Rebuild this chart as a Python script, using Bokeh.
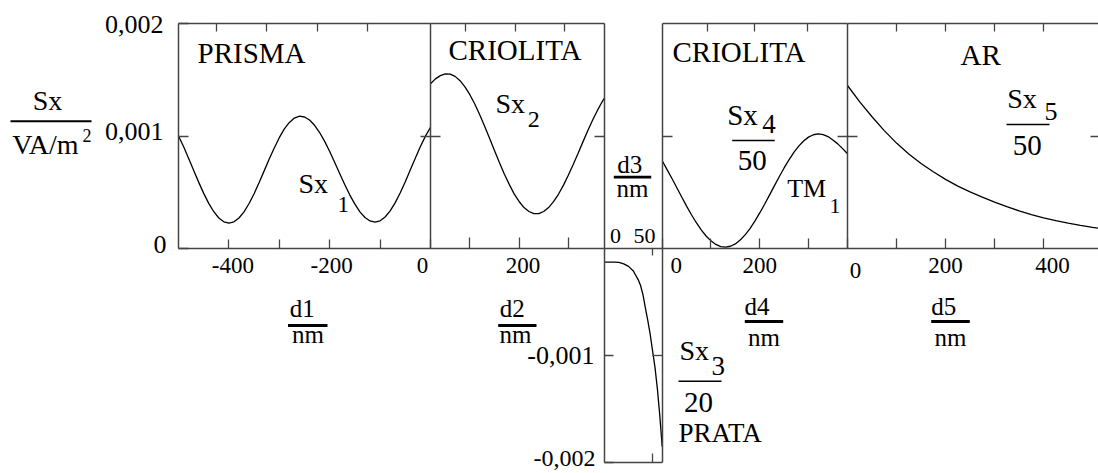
import numpy as np
from bokeh.plotting import figure
from bokeh.models import Range1d, LinearAxis, FixedTicker, Label
from bokeh.embed import file_html
from bokeh.resources import INLINE

# ---------------------------------------------------------------------------
# Poynting component Sx across the layer stack (values in 1e-3 VA/m^2)
# prism | cryolite | silver | cryolite | air ; coordinates d1..d5 in nm
# ---------------------------------------------------------------------------
d1 = [-500, -490, -480, -470, -460, -450, -440, -430, -420, -410, -400, -390, -380,
      -370, -360, -350, -340, -330, -320, -310, -300, -290, -280, -270, -260, -250,
      -240, -230, -220, -210, -200, -190, -180, -170, -160, -150, -140, -130, -120,
      -110, -100, -90, -80, -70, -60, -50, -40, -30, -20, -10, 0]
sx1 = [1.000, 0.906, 0.803, 0.696, 0.590, 0.490, 0.401, 0.327, 0.271, 0.237, 0.225,
       0.237, 0.271, 0.326, 0.400, 0.487, 0.586, 0.690, 0.795, 0.894, 0.985, 1.063,
       1.121, 1.159, 1.176, 1.169, 1.142, 1.095, 1.031, 0.952, 0.862, 0.765, 0.665,
       0.567, 0.475, 0.394, 0.326, 0.276, 0.245, 0.234, 0.246, 0.280, 0.334, 0.408,
       0.496, 0.594, 0.699, 0.804, 0.906, 0.999, 1.078]

d2 = [20, 30, 40, 50, 60, 70, 80, 90, 100, 110, 120, 130, 140, 150, 160, 170, 180,
      190, 200, 210, 220, 230, 240, 250, 260, 270, 280, 290, 300, 310, 320, 330, 340,
      350, 360, 370, 373]
sx2 = [1.464, 1.508, 1.537, 1.552, 1.550, 1.530, 1.492, 1.437, 1.367, 1.284, 1.188,
       1.086, 0.979, 0.871, 0.764, 0.663, 0.570, 0.486, 0.418, 0.364, 0.329, 0.310,
       0.310, 0.329, 0.364, 0.416, 0.482, 0.561, 0.651, 0.746, 0.847, 0.950, 1.051,
       1.147, 1.234, 1.313, 1.334]

d3 = [0, 5, 10, 15, 20, 25, 30, 35, 37.5, 40, 42.5, 45, 47.5, 50, 52.5, 55, 57.5, 60]
sx3_div20 = [-0.128, -0.127, -0.127, -0.130, -0.143, -0.167, -0.210, -0.290, -0.345,
             -0.430, -0.555, -0.670, -0.800, -0.955, -1.110, -1.310, -1.560, -1.850]

d4 = [0, 10, 20, 30, 40, 50, 60, 70, 80, 90, 100, 110, 120, 130, 140, 150, 160, 170,
      180, 190, 200, 210, 220, 230, 240, 250, 260, 270, 280, 290, 300, 310, 320, 330,
      340, 350, 360, 370, 380]
sx4_div50 = [0.780, 0.701, 0.622, 0.540, 0.458, 0.377, 0.300, 0.229, 0.166, 0.111,
             0.068, 0.036, 0.017, 0.012, 0.020, 0.041, 0.075, 0.121, 0.177, 0.243,
             0.316, 0.393, 0.474, 0.557, 0.638, 0.716, 0.788, 0.854, 0.910, 0.956,
             0.990, 1.011, 1.019, 1.013, 0.995, 0.964, 0.930, 0.888, 0.842]

d5 = [0, 25, 50, 75, 100, 125, 150, 175, 200, 225, 250, 275, 300, 325, 350, 375, 400,
      425, 450, 475, 500, 512]
sx5_div50 = [1.449, 1.303, 1.171, 1.048, 0.937, 0.841, 0.756, 0.682, 0.614, 0.555,
             0.504, 0.457, 0.413, 0.372, 0.335, 0.301, 0.272, 0.248, 0.226, 0.206,
             0.188, 0.180]

# tick values / labels
sx_ticks = [0, 1, 2]
sx_tick_labels = ["0", "0,001", "0,002"]
s3_ticks = [-2, -1]
s3_tick_labels = ["-0,002", "-0,001"]

d1_ticks, d1_tick_labels, d1_minor = [-400, -200, 0], ["-400", "-200", "0"], [-300, -100]
d1_top = [-425, -325, -225, -125]
d2_ticks, d2_tick_labels, d2_minor = [200], ["200"], [100, 300]
d2_top = [92, 192, 292]
d3_ticks, d3_tick_labels = [0, 50], ["0", "50"]
d3_marks = [50]
d4_ticks, d4_tick_labels, d4_minor = [0, 200], ["0", "200"], [100, 300]
d4_top = [92, 190, 298]
d5_ticks, d5_tick_labels, d5_minor = [0, 200, 400], ["0", "200", "400"], [100, 300]
d5_top = [100, 200, 300, 400]

# ---------------------------------------------------------------------------
W, H = 1098, 473
FONT = "Liberation Serif, Times New Roman, Times, serif"
INK = "black"
FRAME = "#444444"
MID = 0.345   # distance baseline -> text middle, in em

# page-pixel coordinates (origin top-left) for free text
p = figure(width=W, height=H, x_range=Range1d(0, W), y_range=Range1d(H, 0),
           x_axis_type=None, y_axis_type=None, toolbar_location=None,
           output_backend="svg", min_border=0, title=None)
p.outline_line_color = None
p.background_fill_color = "white"
p.border_fill_color = "white"

# where each layer's axes sit on the page: (value a, value b, pixel a, pixel b)
X_PLACE = {
    "d1": (-500, 0, 178.0, 430.0),
    "d2": (20, 373, 430.0, 603.7),
    "d3": (0, 60, 604.0, 661.7),
    "d4": (0, 380, 661.7, 847.0),
    "d5": (0, 512, 847.0, 1098.0),
}
Y_PLACE = {
    "sx": (0, 2, 248.0, 23.0),
    "s3": (-2, 0, 462.3, 248.0),
}


def span(v0, v1, q0, q1, size):
    k = (q1 - q0) / (v1 - v0)
    start = v0 - q0 / k
    return Range1d(start=start, end=start + size / k)


p.extra_x_ranges = {n: span(a, b, l, r, W) for n, (a, b, l, r) in X_PLACE.items()}
p.extra_y_ranges = {n: span(a, b, H - yb, H - yt, H) for n, (a, b, yb, yt) in Y_PLACE.items()}


def frame_axis(side, xr, yr, loc, bounds, marks=(), tin=0, tout=0, line=True):
    """Panel edge with inward/outward tick marks (labels are placed separately)."""
    ax = LinearAxis(x_range_name=xr, y_range_name=yr, fixed_location=loc, bounds=bounds,
                    ticker=FixedTicker(ticks=[], minor_ticks=sorted(marks)))
    ax.minor_tick_in = tin
    ax.minor_tick_out = tout
    ax.major_tick_in = 0
    ax.major_tick_out = 0
    ax.axis_line_color = FRAME if line else None
    ax.axis_line_width = 1.5
    ax.minor_tick_line_color = FRAME
    ax.minor_tick_line_width = 1.3
    p.add_layout(ax, side)
    return ax


def put(text, x, y, fs, align="left", xr="default", yr="default", dx=0, dy=0):
    """Text whose alphabetic baseline sits at y (page px) or dy px above y (data)."""
    if yr == "default":
        y = y - MID * fs
    else:
        dy = dy + MID * fs
    p.add_layout(Label(x=x, y=y, x_range_name=xr, y_range_name=yr, x_offset=dx,
                       y_offset=dy, text=text, text_font=FONT,
                       text_font_size=f"{fs}px", text_align=align,
                       text_baseline="middle", text_color=INK))


# prism
frame_axis("below", "d1", "sx", 0, (-500, 0), d1_ticks + d1_minor, tin=9)
frame_axis("above", "d1", "sx", 2, (-500, 0), d1_top, tin=8)
frame_axis("left", "d1", "sx", -500, (0, 2), sx_ticks, tin=10)
frame_axis("right", "d1", "sx", 0, (0, 2), [1], tin=10, tout=10)
# first cryolite layer
frame_axis("below", "d2", "sx", 0, (20, 373), d2_ticks + d2_minor, tin=11)
frame_axis("above", "d2", "sx", 2, (20, 373), d2_top, tin=8)
frame_axis("right", "d2", "sx", 373, (0, 2), [1], tin=10)
# silver
frame_axis("above", "d3", "s3", 0, (0, 60), d3_marks, tin=7)
frame_axis("below", "d3", "s3", -2, (0, 60), d3_marks, tin=9)
frame_axis("left", "d3", "s3", 0, (-2, 0), s3_ticks, tin=9)
frame_axis("right", "d3", "s3", 60, (-2, 0), [-1], tin=10)
# second cryolite layer
frame_axis("below", "d4", "sx", 0, (0, 380), d4_ticks + d4_minor, tin=10)
frame_axis("above", "d4", "sx", 2, (0, 380), d4_top, tin=8)
frame_axis("left", "d4", "sx", 0, (0, 2), [1], tin=10)
frame_axis("right", "d4", "sx", 380, (0, 2), [1], tin=10, tout=10)
# air
frame_axis("below", "d5", "sx", 0, (0, 512), d5_ticks + d5_minor, tin=10)
frame_axis("above", "d5", "sx", 2, (0, 512), d5_top, tin=8)
frame_axis("right", "d5", "sx", 512, (0, 2), [1], tin=8, line=False)

# tick labels, tied to their tick values (nudges in px: dx right, dy up to baseline)
XLABEL_NUDGE = {
    "d1": [(4, -25), (2, -25), (-8, -25)],
    "d2": [(4, -25)],
    "d4": [(14, -25), (0, -25)],
    "d5": [(8, -30), (0, -25), (9, -25)],
}
for xr, vals, labs in [("d1", d1_ticks, d1_tick_labels), ("d2", d2_ticks, d2_tick_labels),
                       ("d4", d4_ticks, d4_tick_labels), ("d5", d5_ticks, d5_tick_labels)]:
    for v, t, (dx, dy) in zip(vals, labs, XLABEL_NUDGE[xr]):
        put(t, v, 0, 23, "center", xr, "sx", dx=dx, dy=dy)

for v, t, (dx, dy) in zip(sx_ticks, sx_tick_labels, [(-12, -5), (-15, -4.5), (-15, -10)]):
    put(t, -500, v, 26, "right", "d1", "sx", dx=dx, dy=dy)

for v, t, dx in zip(d3_ticks, d3_tick_labels, [11, -8]):
    put(t, v, 0, 22, "center", "d3", "s3", dx=dx, dy=5)
for v, t, (dx, dy, fs) in zip(s3_ticks, s3_tick_labels, [(-9, -4, 24), (-10, -9, 26)]):
    put(t, 0, v, fs, "right", "d3", "s3", dx=dx, dy=dy)

# curves
curve = dict(line_color=INK, line_width=1.3)
p.line(d1, sx1, x_range_name="d1", y_range_name="sx", **curve)
p.line(d2, sx2, x_range_name="d2", y_range_name="sx", **curve)
p.line(d3, sx3_div20, x_range_name="d3", y_range_name="s3", **curve)
p.line(d4, sx4_div50, x_range_name="d4", y_range_name="sx", **curve)
p.line(d5, sx5_div50, x_range_name="d5", y_range_name="sx", **curve)

# free text (page pixels, alphabetic baseline)
TEXTS = [
    ("PRISMA", 197, 63, 29, "left"),
    ("CRIOLITA", 448, 60, 29, "left"),
    ("CRIOLITA", 672, 61.7, 29, "left"),
    ("AR", 960, 65, 29, "left"),
    ("Sx", 47, 110, 28, "center"),
    ("VA/m", 11.7, 154, 28, "left"),
    ("2", 82, 141, 18, "left"),
    ("Sx", 298, 193, 28, "left"),
    ("1", 337, 212, 23, "left"),
    ("Sx", 495, 113, 28, "left"),
    ("2", 527.3, 127, 24, "left"),
    ("Sx", 726.7, 125, 29, "left"),
    ("4", 761.7, 133, 27, "left"),
    ("50", 751.7, 170, 29, "center"),
    ("TM", 786.7, 197, 26, "left"),
    ("1", 829, 213, 22, "left"),
    ("Sx", 1006.7, 108, 28, "left"),
    ("5", 1044, 120, 26, "left"),
    ("50", 1026.7, 155, 29, "center"),
    ("Sx", 679, 360, 28, "left"),
    ("3", 711, 375, 27, "left"),
    ("20", 698, 411.7, 29, "center"),
    ("PRATA", 678, 441.7, 27, "left"),
    ("d1", 289.3, 317, 25, "left"),
    ("nm", 307.5, 343, 25, "center"),
    ("d2", 499.3, 317, 25, "left"),
    ("nm", 515, 343, 25, "center"),
    ("d3", 616.7, 173, 25, "left"),
    ("nm", 632, 197, 25, "center"),
    ("d4", 744, 315, 25, "left"),
    ("nm", 763.5, 346, 25, "center"),
    ("d5", 930.7, 315, 25, "left"),
    ("nm", 950, 346, 25, "center"),
]
for txt, x, y, fs, al in TEXTS:
    put(txt, x, y, fs, al)

# fraction bars (x0, x1, y, width)
BARS = [
    (10, 91, 120.7, 2.0),
    (731.7, 774.3, 140, 1.6),
    (1006, 1049, 124, 1.6),
    (678, 721, 380.7, 1.6),
    (287.5, 327, 325, 2.8),
    (497.7, 536, 325, 2.8),
    (613.3, 650.7, 176.7, 2.8),
    (744.3, 782.7, 321, 2.8),
    (930.7, 969.3, 321, 2.8),
]
for x0, x1, y, w in BARS:
    p.segment(x0=[x0], y0=[y], x1=[x1], y1=[y], line_color=INK, line_width=w)

open("out.html", "w").write(file_html(p, INLINE))
